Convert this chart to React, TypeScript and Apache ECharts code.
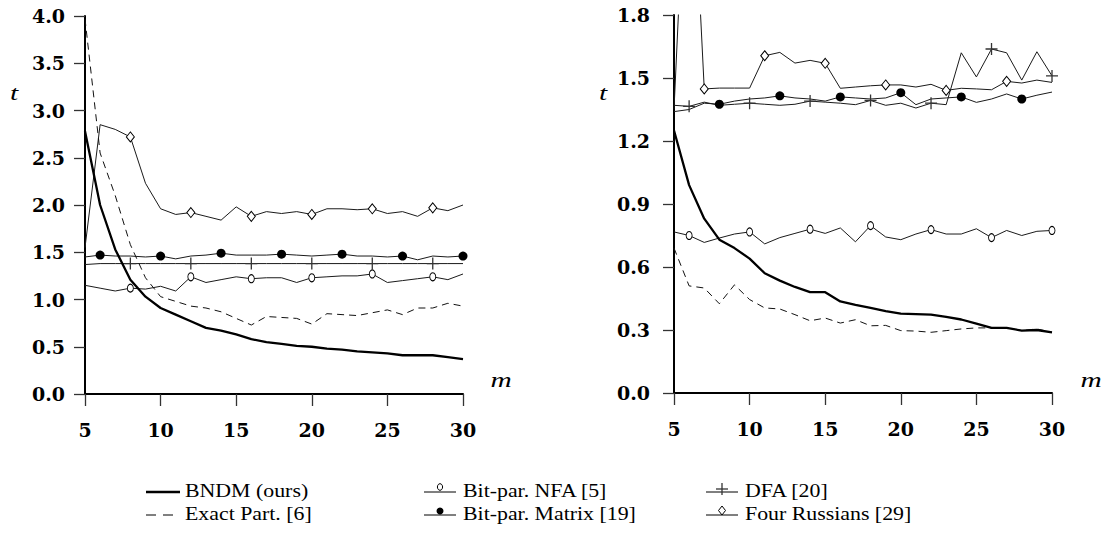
import React, { useEffect, useRef } from "react";
import * as echarts from "echarts";

// pattern length m (x values)
const mValues = [5, 6, 7, 8, 9, 10, 11, 12, 13, 14, 15, 16, 17, 18, 19, 20, 21, 22, 23, 24, 25, 26, 27, 28, 29, 30];

// ---- left panel (t) ----
const bndmLeft = [2.78, 2.0, 1.53, 1.21, 1.03, 0.91, 0.84, 0.77, 0.7, 0.67, 0.63, 0.58, 0.55, 0.53, 0.51, 0.5, 0.48, 0.47, 0.45, 0.44, 0.43, 0.41, 0.41, 0.41, 0.39, 0.37];
const exactLeft = [3.97, 2.55, 2.1, 1.58, 1.23, 1.03, 0.98, 0.93, 0.91, 0.87, 0.8, 0.73, 0.82, 0.81, 0.8, 0.74, 0.85, 0.84, 0.83, 0.86, 0.89, 0.84, 0.91, 0.91, 0.96, 0.93];
const nfaLeft = [1.15, 1.12, 1.09, 1.12, 1.11, 1.14, 1.09, 1.24, 1.18, 1.21, 1.24, 1.22, 1.23, 1.23, 1.18, 1.23, 1.24, 1.25, 1.25, 1.27, 1.18, 1.2, 1.22, 1.24, 1.21, 1.27];
const matrixLeft = [1.45, 1.47, 1.46, 1.46, 1.45, 1.46, 1.43, 1.46, 1.47, 1.49, 1.47, 1.47, 1.47, 1.48, 1.47, 1.46, 1.47, 1.48, 1.46, 1.46, 1.45, 1.46, 1.42, 1.46, 1.45, 1.46];
const dfaLeft = [1.37, 1.38, 1.38, 1.38, 1.38, 1.38, 1.38, 1.38, 1.38, 1.38, 1.38, 1.38, 1.38, 1.38, 1.38, 1.38, 1.38, 1.38, 1.38, 1.38, 1.38, 1.38, 1.38, 1.38, 1.38, 1.38];
const fourLeft = [1.55, 2.85, 2.8, 2.72, 2.23, 1.96, 1.9, 1.92, 1.88, 1.84, 1.98, 1.88, 1.93, 1.91, 1.93, 1.9, 1.96, 1.96, 1.95, 1.96, 1.91, 1.93, 1.88, 1.97, 1.94, 2.0];

// ---- right panel (t) ----
const bndmRight = [1.25, 0.99, 0.83, 0.73, 0.69, 0.64, 0.57, 0.535, 0.505, 0.48, 0.48, 0.436, 0.42, 0.405, 0.39, 0.378, 0.376, 0.373, 0.362, 0.35, 0.33, 0.31, 0.31, 0.297, 0.3, 0.289];
const exactRight = [0.69, 0.51, 0.5, 0.425, 0.515, 0.445, 0.405, 0.4, 0.373, 0.344, 0.357, 0.333, 0.349, 0.32, 0.322, 0.297, 0.295, 0.289, 0.297, 0.305, 0.31, 0.31, 0.31, 0.297, 0.305, 0.289];
const nfaRight = [0.767, 0.75, 0.717, 0.738, 0.757, 0.767, 0.71, 0.74, 0.76, 0.78, 0.76, 0.786, 0.72, 0.797, 0.743, 0.73, 0.757, 0.778, 0.757, 0.757, 0.782, 0.74, 0.774, 0.75, 0.77, 0.774];
const matrixRight = [1.34, 1.35, 1.38, 1.375, 1.39, 1.4, 1.405, 1.415, 1.405, 1.4, 1.39, 1.41, 1.405, 1.4, 1.405, 1.43, 1.373, 1.4, 1.405, 1.41, 1.384, 1.4, 1.424, 1.4, 1.418, 1.433];
const dfaRight = [1.37, 1.365, 1.385, 1.37, 1.375, 1.38, 1.375, 1.37, 1.375, 1.39, 1.385, 1.38, 1.373, 1.393, 1.37, 1.38, 1.357, 1.38, 1.373, 1.62, 1.505, 1.638, 1.62, 1.49, 1.625, 1.51];
const fourRight = [1.35, 2.9, 1.448, 1.452, 1.452, 1.452, 1.606, 1.622, 1.571, 1.584, 1.57, 1.451, 1.457, 1.463, 1.467, 1.467, 1.457, 1.47, 1.441, 1.451, 1.448, 1.444, 1.484, 1.476, 1.49, 1.479];

// m values where a marker is drawn
const marksLeft = { nfa: [8, 12, 16, 20, 24, 28], matrix: [6, 10, 14, 18, 22, 26, 30], dfa: [8, 12, 16, 20, 24, 28], four: [8, 12, 16, 20, 24, 28] };
const marksRight = { nfa: [6, 10, 14, 18, 22, 26, 30], matrix: [8, 12, 16, 20, 24, 28], dfa: [6, 10, 14, 18, 22, 26, 30], four: [7, 11, 15, 19, 23, 27] };

const xTicks = [5, 10, 15, 20, 25, 30];
const yLeftMax = 4.0;
const yLeftStep = 0.5;
const yRightMax = 1.8;
const yRightStep = 0.3;

const seriesNames = {
  bndm: "BNDM (ours)",
  exact: "Exact Part. [6]",
  nfa: "Bit-par. NFA [5]",
  matrix: "Bit-par. Matrix [19]",
  dfa: "DFA [20]",
  four: "Four Russians [29]",
};

const TXT = "Liberation Serif";
const PLUS = "path://M0,6L12,6M6,0L6,12";

function withMarks(values: number[], marks: number[] | null) {
  return mValues.map((m, i) =>
    marks && marks.includes(m) ? { value: [m, values[i]] } : { value: [m, values[i]], symbol: "none" }
  );
}

function makeSeries(idx: number, d: any, marks: any) {
  const base = { type: "line", xAxisIndex: idx, yAxisIndex: idx, clip: true, showAllSymbol: true, z: 3 };
  return [
    { ...base, name: seriesNames.nfa, data: withMarks(d.nfa, marks.nfa), symbol: "circle", symbolSize: [6, 8],
      itemStyle: { color: "#fff", borderColor: "#000", borderWidth: 1 }, lineStyle: { color: "#1a1a1a", width: 1 } },
    { ...base, name: seriesNames.matrix, data: withMarks(d.matrix, marks.matrix), symbol: "circle", symbolSize: 9,
      itemStyle: { color: "#000", borderWidth: 0 }, lineStyle: { color: "#1a1a1a", width: 1 } },
    { ...base, name: seriesNames.dfa, data: withMarks(d.dfa, marks.dfa), symbol: PLUS, symbolSize: 12,
      itemStyle: { color: "rgba(0,0,0,0)", borderColor: "#333", borderWidth: 1.3 }, lineStyle: { color: "#1a1a1a", width: 1 } },
    { ...base, name: seriesNames.four, data: withMarks(d.four, marks.four), symbol: "diamond", symbolSize: [8, 10],
      itemStyle: { color: "#fff", borderColor: "#000", borderWidth: 1 }, lineStyle: { color: "#1a1a1a", width: 1 } },
    { ...base, name: seriesNames.exact, data: withMarks(d.exact, null), symbol: "none",
      lineStyle: { color: "#111", width: 1, type: [7, 5] } },
    { ...base, name: seriesNames.bndm, data: withMarks(d.bndm, null), symbol: "none", z: 4,
      lineStyle: { color: "#000", width: 2.3 } },
  ];
}

function xAxisDef(gridIndex: number) {
  return {
    type: "value", gridIndex, min: xTicks[0], max: xTicks[xTicks.length - 1], interval: 5,
    axisLine: { onZero: false, lineStyle: { color: "#000", width: 2 } },
    axisTick: { length: 12, lineStyle: { color: "#333", width: 1.3 } },
    axisLabel: { margin: 26, fontFamily: "DejaVu Serif", fontWeight: "bold", fontSize: 19, color: "#000" },
    splitLine: { show: false },
  };
}

function yAxisDef(gridIndex: number, max: number, step: number, margin: number) {
  return {
    type: "value", gridIndex, min: 0, max, interval: step,
    axisLine: { show: true, onZero: false, lineStyle: { color: "#000", width: 2 } },
    axisTick: { show: true, length: 11, lineStyle: { color: "#333", width: 1.3 } },
    axisLabel: { margin, fontFamily: "DejaVu Serif", fontWeight: "bold", fontSize: 19, color: "#000",
      formatter: (v: number) => v.toFixed(1) },
    splitLine: { show: false },
  };
}

function italic(text: string, x: number, y: number) {
  return { type: "text", x, y, scaleX: 1.4, style: { text, font: `italic 21px "${TXT}"`, fill: "#000", align: "center", verticalAlign: "middle" } };
}

function legendItem(kind: string, label: string, x1: number, x2: number, tx: number, y: number) {
  const children: any[] = [];
  const mid = (x1 + x2) / 2;
  if (kind === "bndm") {
    children.push({ type: "line", shape: { x1, y1: y, x2, y2: y }, style: { stroke: "#000", lineWidth: 2.3 } });
  } else if (kind === "exact") {
    children.push({ type: "line", shape: { x1, y1: y, x2, y2: y }, style: { stroke: "#000", lineWidth: 1, lineDash: [10, 7] } });
  } else {
    children.push({ type: "line", shape: { x1, y1: y, x2, y2: y }, style: { stroke: "#000", lineWidth: 1 } });
    const my = y - 5;
    if (kind === "nfa") children.push({ type: "ellipse", shape: { cx: mid, cy: my, rx: 2.6, ry: 3.3 }, style: { fill: "#fff", stroke: "#000", lineWidth: 1 } });
    if (kind === "matrix") children.push({ type: "circle", shape: { cx: mid, cy: y - 4, r: 3.5 }, style: { fill: "#000" } });
    if (kind === "dfa") {
      children.push({ type: "line", shape: { x1: mid - 6, y1: y - 3, x2: mid + 6, y2: y - 3 }, style: { stroke: "#333", lineWidth: 1.3 } });
      children.push({ type: "line", shape: { x1: mid, y1: y - 9, x2: mid, y2: y + 3 }, style: { stroke: "#333", lineWidth: 1.3 } });
    }
    if (kind === "four") children.push({ type: "polygon", shape: { points: [[mid, y - 9], [mid + 3.5, y - 4.5], [mid, y], [mid - 3.5, y - 4.5]] }, style: { fill: "#fff", stroke: "#000", lineWidth: 1 } });
  }
  children.push({ type: "text", x: tx, y: y - 1, scaleX: 1.15, style: { text: label, font: `19px "${TXT}"`, fill: "#000", verticalAlign: "middle" } });
  return { type: "group", children };
}

export default function App() {
  const ref = useRef<HTMLDivElement>(null);
  useEffect(() => {
    if (!ref.current) return;
    const chart = echarts.init(ref.current, null, { renderer: "svg" });
    const r1 = 492;
    const r2 = 515;
    chart.setOption({
      animation: false,
      backgroundColor: "#fff",
      grid: [
        { left: 85, top: 16, width: 378, height: 378 },
        { left: 674, top: 15, width: 378, height: 378 },
      ],
      xAxis: [xAxisDef(0), xAxisDef(1)],
      yAxis: [yAxisDef(0, yLeftMax, yLeftStep, 20), yAxisDef(1, yRightMax, yRightStep, 24)],
      series: [
        ...makeSeries(0, { bndm: bndmLeft, exact: exactLeft, nfa: nfaLeft, matrix: matrixLeft, dfa: dfaLeft, four: fourLeft }, marksLeft),
        ...makeSeries(1, { bndm: bndmRight, exact: exactRight, nfa: nfaRight, matrix: matrixRight, dfa: dfaRight, four: fourRight }, marksRight),
      ],
      graphic: [
        italic("t", 14, 93),
        italic("t", 603, 93),
        italic("m", 501, 380),
        italic("m", 1091, 380),
        legendItem("bndm", seriesNames.bndm, 146, 180, 185, r1),
        legendItem("exact", seriesNames.exact, 146, 180, 185, r2),
        legendItem("nfa", seriesNames.nfa, 424, 456, 463, r1),
        legendItem("matrix", seriesNames.matrix, 424, 456, 463, r2),
        legendItem("dfa", seriesNames.dfa, 706, 738, 745, r1),
        legendItem("four", seriesNames.four, 706, 738, 745, r2),
      ],
    });
    return () => chart.dispose();
  }, []);
  return <div ref={ref} style={{ position: "fixed", left: 0, top: 0, width: 1104, height: 542 }} />;
}
